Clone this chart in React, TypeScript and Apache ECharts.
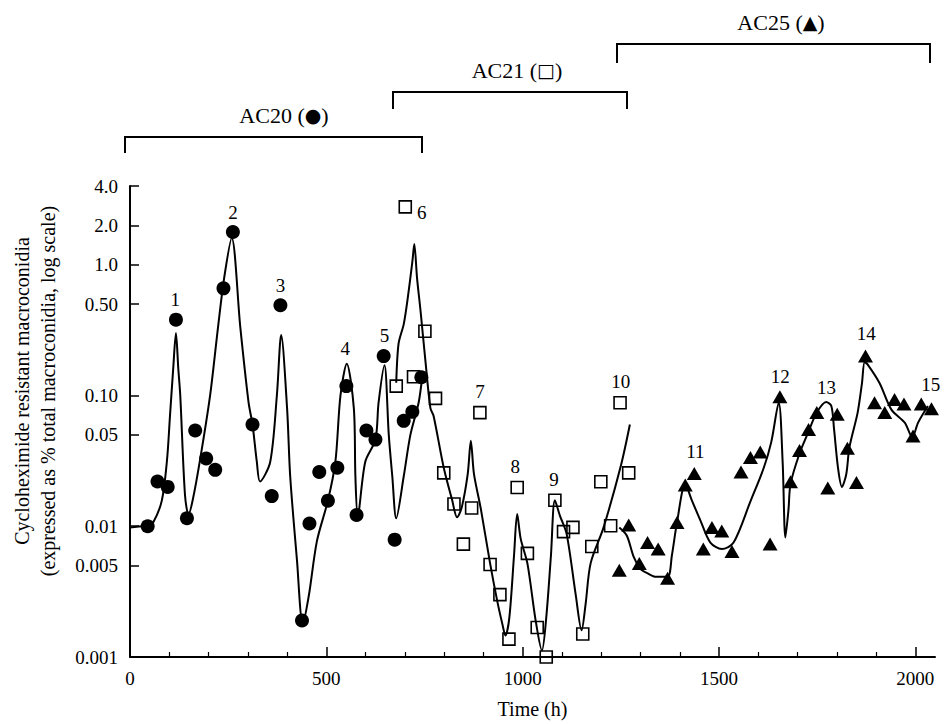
import React, { useEffect, useRef } from 'react';
import * as echarts from 'echarts';

// ---------- data (hours, % resistant macroconidia) ----------
const ac20Hours = [45, 70, 96, 117, 145, 166, 194, 217, 238, 262, 312, 361, 383, 438, 457, 482, 504, 528, 551, 577, 602, 625, 646, 674, 697, 719, 742];
const ac20Values = [0.010, 0.022, 0.020, 0.38, 0.0115, 0.054, 0.033, 0.027, 0.66, 1.78, 0.060, 0.017, 0.49, 0.0019, 0.0105, 0.026, 0.0157, 0.028, 0.118, 0.0122, 0.054, 0.046, 0.20, 0.0079, 0.064, 0.075, 0.138];

const ac20CurveHours = [0, 30, 45, 59, 81, 94, 102, 110, 117, 123, 128, 140, 149, 160, 179, 204, 225, 240, 259, 281, 302, 312, 323, 331, 357, 374, 385, 400, 408, 425, 440, 455, 476, 504, 523, 536, 552, 570, 574, 580, 599, 625, 633, 648, 659, 668, 678, 697, 714, 735, 744];
const ac20CurveValues = [0.0098, 0.0100, 0.0101, 0.0107, 0.0157, 0.0315, 0.071, 0.16, 0.30, 0.16, 0.10, 0.0174, 0.0123, 0.016, 0.033, 0.10, 0.35, 0.8, 1.6, 0.33, 0.088, 0.060, 0.031, 0.022, 0.031, 0.10, 0.29, 0.08, 0.024, 0.0056, 0.0018, 0.0029, 0.0077, 0.0157, 0.031, 0.10, 0.175, 0.08, 0.024, 0.012, 0.031, 0.046, 0.088, 0.17, 0.05, 0.024, 0.0115, 0.024, 0.05, 0.088, 0.138];

const ac21Hours = [678, 701, 722, 751, 778, 799, 825, 849, 870, 891, 917, 942, 965, 986, 1012, 1037, 1060, 1082, 1104, 1128, 1153, 1176, 1199, 1224, 1248, 1270];
const ac21Values = [0.118, 2.77, 0.139, 0.31, 0.095, 0.0256, 0.0148, 0.0073, 0.0138, 0.074, 0.0051, 0.0030, 0.00137, 0.0198, 0.0062, 0.00168, 0.0010, 0.0158, 0.0091, 0.0098, 0.0015, 0.0070, 0.0219, 0.0101, 0.088, 0.0256];

const ac21CurveHours = [678, 684, 697, 706, 719, 724, 731, 740, 753, 765, 773, 799, 820, 833, 845, 860, 868, 876, 893, 917, 935, 948, 956, 966, 978, 986, 995, 1012, 1033, 1049, 1060, 1072, 1082, 1095, 1112, 1135, 1150, 1160, 1173, 1206, 1250, 1273];
const ac21CurveValues = [0.125, 0.25, 0.35, 0.52, 1.05, 1.44, 0.79, 0.44, 0.175, 0.08, 0.070, 0.028, 0.016, 0.0117, 0.014, 0.025, 0.045, 0.025, 0.0138, 0.0052, 0.0027, 0.0018, 0.00146, 0.002, 0.006, 0.0124, 0.008, 0.0052, 0.0019, 0.00112, 0.002, 0.006, 0.0158, 0.012, 0.0087, 0.003, 0.0016, 0.0025, 0.0052, 0.0098, 0.029, 0.060];

const ac25Hours = [1246, 1270, 1297, 1318, 1345, 1369, 1393, 1414, 1437, 1460, 1482, 1507, 1533, 1556, 1580, 1605, 1630, 1655, 1682, 1705, 1728, 1749, 1777, 1801, 1827, 1850, 1873, 1896, 1922, 1947, 1971, 1994, 2015, 2041];
const ac25Values = [0.0046, 0.0102, 0.0052, 0.0075, 0.0067, 0.0040, 0.0107, 0.0207, 0.0253, 0.0067, 0.0098, 0.0092, 0.0064, 0.026, 0.0335, 0.0369, 0.0073, 0.098, 0.0219, 0.038, 0.055, 0.074, 0.0196, 0.072, 0.0395, 0.0216, 0.20, 0.088, 0.074, 0.093, 0.086, 0.049, 0.086, 0.079];

const ac25CurveHours = [1246, 1265, 1283, 1300, 1316, 1340, 1369, 1380, 1393, 1414, 1430, 1453, 1478, 1507, 1537, 1580, 1614, 1633, 1652, 1662, 1669, 1677, 1682, 1705, 1728, 1749, 1773, 1786, 1793, 1803, 1813, 1824, 1832, 1853, 1864, 1871, 1880, 1909, 1939, 1973, 1992, 2007, 2032];
const ac25CurveValues = [0.0098, 0.0085, 0.0058, 0.0047, 0.0044, 0.0041, 0.0041, 0.006, 0.0107, 0.021, 0.016, 0.011, 0.0075, 0.0067, 0.0075, 0.0155, 0.028, 0.044, 0.088, 0.031, 0.0082, 0.0135, 0.021, 0.036, 0.053, 0.074, 0.089, 0.083, 0.055, 0.028, 0.020, 0.025, 0.040, 0.074, 0.124, 0.18, 0.17, 0.124, 0.078, 0.062, 0.048, 0.062, 0.083];

const peakNames = ['1', '2', '3', '4', '5', '6', '7', '8', '9', '10', '11', '12', '13', '14', '15'];
const peakHours = [115, 262, 383, 548, 648, 743, 891, 981, 1080, 1250, 1440, 1656, 1774, 1875, 2039];
const peakValues = [0.54, 2.5, 0.69, 0.227, 0.29, 2.52, 0.107, 0.0285, 0.0226, 0.128, 0.037, 0.139, 0.115, 0.298, 0.122];

const yTickValues = [0.001, 0.005, 0.01, 0.05, 0.1, 0.5, 1, 2, 4];
const yTickLabels = ['0.001', '0.005', '0.01', '0.05', '0.10', '0.50', '1.0', '2.0', '4.0'];
const xMajorTicks = [0, 500, 1000, 1500, 2000];
const xMinorTicks = [100, 200, 300, 400, 600, 700, 800, 900, 1100, 1200, 1300, 1400, 1600, 1700, 1800, 1900];

const bracketNames = ['AC20', 'AC21', 'AC25'];
const bracketSymbols = ['●', '□', '▲'];
const yTitleLines = ['Cycloheximide resistant macroconidia', '(expressed as % total macroconidia, log scale)'];

const FONT = '"Liberation Serif", "Times New Roman", "DejaVu Serif", serif';

const zip = (xs: number[], ys: number[]) => xs.map((x, i) => [x, ys[i]]);

export default function App() {
  const ref = useRef<HTMLDivElement>(null);
  useEffect(() => {
    if (!ref.current) return;
    const chart = echarts.init(ref.current, null, { renderer: 'svg' });
    const black = '#000';
    const lineSeries = (data: number[][]) => ({
      type: 'line',
      data,
      smooth: 0.3,
      showSymbol: false,
      symbol: 'none',
      silent: true,
      lineStyle: { color: black, width: 2, opacity: 1 },
      z: 2,
    });
    const bracket = (x1: number, x2: number, yTop: number, yBot: number) => ({
      type: 'polyline',
      shape: { points: [[x1, yBot], [x1, yTop], [x2, yTop], [x2, yBot]] },
      style: { stroke: black, lineWidth: 2, fill: null },
    });
    const label = (text: string, x: number, y: number, size = 20, rot = 0, rich?: any) => ({
      type: 'text',
      x,
      y,
      rotation: rot,
      style: {
        text,
        fill: black,
        fontSize: size,
        fontFamily: FONT,
        align: 'center',
        verticalAlign: 'middle',
        textAlign: 'center',
        textVerticalAlign: 'middle',
        rich,
      },
    });
    const symRich = {
      s: { fontFamily: '"DejaVu Sans", sans-serif', fontSize: 19, fill: black, verticalAlign: 'middle' },
    };
    const bracketLabel = (i: number, x: number, y: number) =>
      label(`${bracketNames[i]} ({s|${bracketSymbols[i]}})`, x, y, 22, 0, symRich);
    const option: any = {
      animation: false,
      backgroundColor: '#fff',
      grid: { left: 130, right: 14, top: 186, bottom: 58, containLabel: false },
      xAxis: [
        {
          type: 'value',
          min: 0,
          max: 2050,
          interval: 500,
          position: 'bottom',
          axisLine: { show: true, onZero: false, lineStyle: { color: black, width: 2 } },
          axisTick: { show: true, inside: true, length: 10, customValues: xMajorTicks, lineStyle: { color: black, width: 1.5 } },
          minorTick: { show: false },
          splitLine: { show: false },
          axisLabel: { color: black, fontFamily: FONT, fontSize: 19, margin: 12, customValues: xMajorTicks, formatter: (v: number) => String(v) },
          name: 'Time (h)',
          nameLocation: 'middle',
          nameGap: 42,
          nameTextStyle: { color: black, fontFamily: FONT, fontSize: 20 },
        },
        {
          type: 'value',
          min: 0,
          max: 2050,
          interval: 500,
          position: 'bottom',
          axisLine: { show: false },
          axisTick: { show: true, inside: true, length: 5, customValues: xMinorTicks, lineStyle: { color: black, width: 1.2 } },
          axisLabel: { show: false },
          splitLine: { show: false },
        },
      ],
      yAxis: {
        type: 'log',
        logBase: 10,
        min: 0.001,
        max: 4,
        axisLine: { show: true, onZero: false, lineStyle: { color: black, width: 2 } },
        axisTick: { show: true, inside: true, length: 9, customValues: yTickValues, lineStyle: { color: black, width: 1.5 } },
        minorTick: { show: false },
        splitLine: { show: false },
        axisLabel: {
          color: black,
          fontFamily: FONT,
          fontSize: 19,
          margin: 12,
          customValues: yTickValues,
          formatter: (v: number) => {
            const i = yTickValues.findIndex((t) => Math.abs(t - v) / t < 1e-6);
            return i >= 0 ? yTickLabels[i] : '';
          },
        },
      },
      series: [
        lineSeries(zip(ac20CurveHours, ac20CurveValues)),
        lineSeries(zip(ac21CurveHours, ac21CurveValues)),
        lineSeries(zip(ac25CurveHours, ac25CurveValues)),
        {
          type: 'scatter',
          name: 'AC20',
          data: zip(ac20Hours, ac20Values),
          symbol: 'circle',
          symbolSize: 14,
          itemStyle: { color: black, opacity: 1 },
          z: 3,
        },
        {
          type: 'scatter',
          name: 'AC21',
          data: zip(ac21Hours, ac21Values),
          symbol: 'rect',
          symbolSize: 12,
          itemStyle: { color: 'rgba(255,255,255,0)', borderColor: black, borderWidth: 1.6, opacity: 1 },
          z: 3,
        },
        {
          type: 'scatter',
          name: 'AC25',
          data: zip(ac25Hours, ac25Values),
          symbol: 'triangle',
          symbolSize: [15, 13],
          itemStyle: { color: black, opacity: 1 },
          z: 3,
        },
        {
          type: 'scatter',
          name: 'peaks',
          data: peakNames.map((n, i) => ({ name: n, value: [peakHours[i], peakValues[i]] })),
          symbolSize: 0,
          itemStyle: { color: black, opacity: 1 },
          label: {
            show: true,
            position: 'inside',
            formatter: '{b}',
            color: black,
            textBorderWidth: 0,
            textBorderColor: 'transparent',
            opacity: 1,
            fontFamily: FONT,
            fontSize: 19,
          },
          z: 4,
        },
      ],
      graphic: [
        bracket(125, 422, 137, 153),
        bracket(393, 627, 92, 109),
        bracket(617, 930, 44, 63),
        bracketLabel(0, 284, 115),
        bracketLabel(1, 517, 70),
        bracketLabel(2, 781, 22),
        label(yTitleLines[0], 22, 391, 20, Math.PI / 2),
        label(yTitleLines[1], 48, 391, 20, Math.PI / 2),
      ],
    };
    chart.setOption(option);
    return () => chart.dispose();
  }, []);
  return (
    <div
      ref={ref}
      style={{ position: 'absolute', left: 0, top: 0, width: 949, height: 724, background: '#fff' }}
    />
  );
}
